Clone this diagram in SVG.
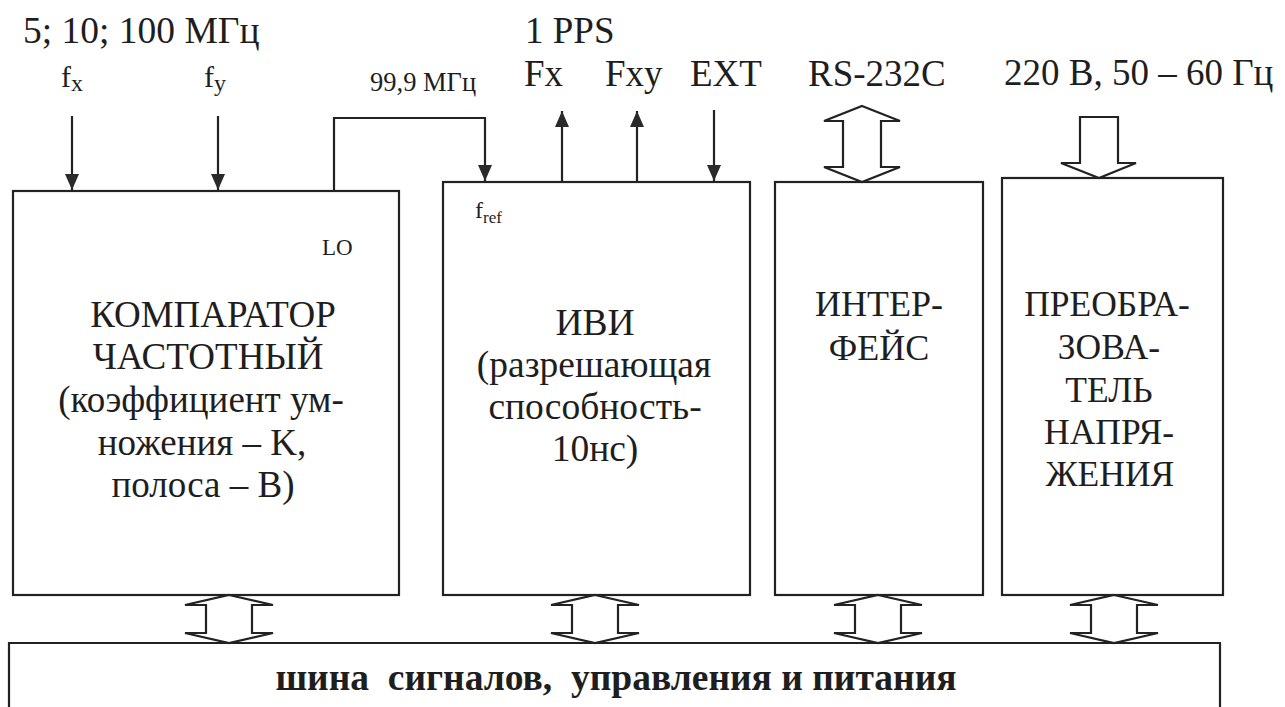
<svg xmlns="http://www.w3.org/2000/svg" width="1285" height="707" viewBox="0 0 1285 707">
<defs>
<style>
text{font-family:"Liberation Serif","Times New Roman",serif;fill:#1e1e1e;}
.c{text-anchor:middle;}
.box{fill:none;stroke:#222;stroke-width:2.2;}
.ln{fill:none;stroke:#222;stroke-width:2.2;}
.dbl{fill:#fff;stroke:#222;stroke-width:2.2;stroke-linejoin:miter;}
</style>
<marker id="ah" viewBox="0 0 16 14" refX="16" refY="7" markerWidth="16" markerHeight="14" orient="auto" markerUnits="userSpaceOnUse">
<path d="M0,0 L16,7 L0,14 z" fill="#2a2a2a"/>
</marker>
</defs>
<rect width="1285" height="707" fill="#fff"/>

<g id="top-labels">
<text x="23" y="43" font-size="37.5">5; 10; 100 МГц</text>
<text x="61" y="87" font-size="30">f<tspan font-size="24" dy="4">x</tspan></text>
<text x="204" y="87" font-size="30">f<tspan font-size="24" dy="4">y</tspan></text>
<text x="370" y="91" font-size="26.5">99,9 МГц</text>
<text x="525" y="43" font-size="37">1 PPS</text>
<text x="524" y="86" font-size="37">Fx</text>
<text x="605" y="86" font-size="37">Fxy</text>
<text x="690" y="86" font-size="37">EXT</text>
<text x="808" y="86" font-size="37">RS-232C</text>
<text x="1004" y="85" font-size="37">220 В, 50 – 60 Гц</text>
</g>

<g id="comparator">
<rect class="box" x="13" y="191" width="386" height="404"/>
<text x="322" y="255" font-size="23">LO</text>
<text class="c" x="207" font-size="37"><tspan x="213" y="327">КОМПАРАТОР</tspan><tspan x="208" y="369">ЧАСТОТНЫЙ</tspan><tspan x="201" y="412">(коэффициент ум-</tspan><tspan x="202" y="455">ножения – K,</tspan><tspan x="203" y="497">полоса – B)</tspan></text>
</g>

<g id="ivi">
<rect class="box" x="443" y="182" width="307" height="413"/>
<text x="475" y="218" font-size="24">f<tspan font-size="17" dy="5">ref</tspan></text>
<text class="c" x="595" font-size="37.5"><tspan x="595" y="335">ИВИ</tspan><tspan x="594" y="377">(разрешающая</tspan><tspan x="595" y="419">способность-</tspan><tspan x="595" y="461">10нс)</tspan></text>
</g>

<g id="interface">
<rect class="box" x="775" y="182" width="208" height="413"/>
<text class="c" x="879" font-size="36"><tspan x="879" y="316">ИНТЕР-</tspan><tspan x="879" y="360">ФЕЙС</tspan></text>
</g>

<g id="converter">
<rect class="box" x="1002" y="178" width="221" height="417"/>
<text class="c" x="1109" font-size="35.5"><tspan x="1107" y="316">ПРЕОБРА-</tspan><tspan x="1109" y="359">ЗОВА-</tspan><tspan x="1109" y="402">ТЕЛЬ</tspan><tspan x="1109" y="444">НАПРЯ-</tspan><tspan x="1110" y="486">ЖЕНИЯ</tspan></text>
</g>

<g id="bus">
<path class="box" d="M9,710 V643 H1220 V710"/>
<text class="c" x="616" y="690" font-size="37.5" font-weight="bold" xml:space="preserve">шина  сигналов,  управления и питания</text>
</g>

<g id="connectors">
<line class="ln" x1="72" y1="116" x2="72" y2="190" marker-end="url(#ah)"/>
<line class="ln" x1="218" y1="116" x2="218" y2="190" marker-end="url(#ah)"/>
<polyline class="ln" points="334,191 334,118 485,118 485,181" marker-end="url(#ah)"/>
<line class="ln" x1="562" y1="182" x2="562" y2="111" marker-end="url(#ah)"/>
<line class="ln" x1="637" y1="182" x2="637" y2="111" marker-end="url(#ah)"/>
<line class="ln" x1="714" y1="110" x2="714" y2="181" marker-end="url(#ah)"/>
<path class="dbl" d="M862,106 L900,121 L881,121 L881,167 L900,167 L862,182 L824,167 L843,167 L843,121 L824,121 Z"/>
<path class="dbl" d="M1080,117 L1118,117 L1118,163 L1136,163 L1099,178 L1061,163 L1080,163 Z"/>
<path class="dbl" d="M229,595 L273,605 L252,605 L252,633 L273,633 L229,643 L185,633 L206,633 L206,605 L185,605 Z"/>
<path class="dbl" d="M595,595 L639,605 L618,605 L618,633 L639,633 L595,643 L551,633 L572,633 L572,605 L551,605 Z"/>
<path class="dbl" d="M878,595 L922,605 L901,605 L901,633 L922,633 L878,643 L834,633 L855,633 L855,605 L834,605 Z"/>
<path class="dbl" d="M1114,595 L1158,605 L1137,605 L1137,633 L1158,633 L1114,643 L1070,633 L1091,633 L1091,605 L1070,605 Z"/>
</g>
</svg>
